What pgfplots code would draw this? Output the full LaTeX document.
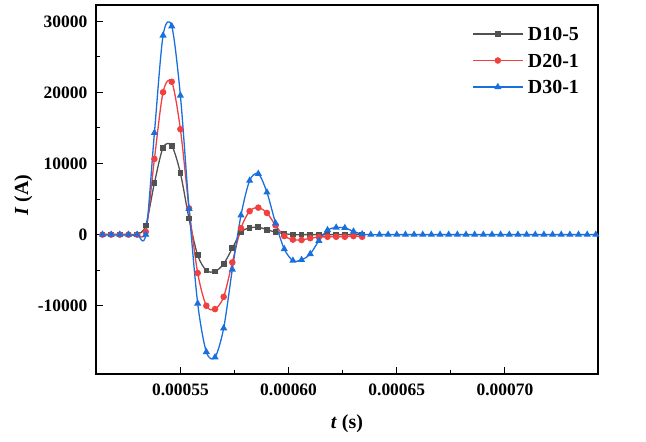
\documentclass[border=0pt]{standalone}
\usepackage{pgfplots}
\pgfplotsset{compat=1.18}
\usepackage{fontspec}
\setmainfont{Liberation Serif}
\definecolor{cA}{HTML}{515151}
\definecolor{cB}{HTML}{F14040}
\definecolor{cC}{HTML}{1A6FDF}
\begin{document}
\begin{tikzpicture}
\path[use as bounding box] (-96bp,-68bp) rectangle (550bp,374bp);
\begin{axis}[
  at={(0,0)}, anchor=south west,
  scale only axis, width=502bp, height=369bp,
  xmin=0.000511, xmax=0.000743,
  ymin=-19600, ymax=32300,
  scaled x ticks=false, scaled y ticks=false,
  xtick={0.00055,0.0006,0.00065,0.0007},
  xticklabels={0.00055,0.00060,0.00065,0.00070},
  ytick={-10000,0,10000,20000,30000},
  yticklabels={-10000,0,10000,20000,30000},
  minor x tick num=1, minor y tick num=1,
  xtick pos=bottom, ytick pos=left,
  tick align=inside,
  major tick length=7bp, minor tick length=4bp,
  every tick/.style={black, line width=1bp},
  axis line style={line width=1.1bp, black},
  xticklabel style={font=\bfseries\fontsize{17.5}{17.5}\selectfont, inner sep=0pt, anchor=north, yshift=-10bp},
  yticklabel style={font=\bfseries\fontsize{17.5}{17.5}\selectfont, inner sep=0pt, anchor=east, xshift=-8.5bp},
  xlabel={\textbf{\textit{t}} \textbf{(s)}},
  ylabel={\textbf{\textit{I}} \textbf{(A)}},
  xlabel style={font=\fontsize{20}{20}\selectfont, at={(axis description cs:0.5,-0.1355)}, anchor=center},
  ylabel style={font=\fontsize{20}{20}\selectfont, at={(axis description cs:-0.1448,0.485)}, anchor=center},
  legend cell align=left,
  legend image code/.code={\draw[mark repeat=2,mark phase=2,#1] plot coordinates {(0bp,0bp) (25bp,0bp) (50bp,0bp)};},
  legend style={at={(axis description cs:0.749,0.9397)}, anchor=north west, draw=none, fill=none,
    inner xsep=0pt, inner ysep=0pt, row sep=13.2bp, column sep=4.5bp,
    nodes={inner sep=0pt, text depth=0pt},
    font=\bfseries\fontsize{20}{20}\selectfont},
]
\addplot[color=cA, line width=1.3bp, smooth, mark=square*, mark size=2.2bp, mark options={solid, fill=cA}] coordinates {
(0.000514,0) (0.000518,0) (0.000522,0) (0.000526,0) (0.000530,0)
(0.000534,1300) (0.000538,7270) (0.000542,12230) (0.000546,12510) (0.000550,8660)
(0.000554,2250) (0.000558,-2900) (0.000562,-5040) (0.000566,-5180) (0.000570,-4110)
(0.000574,-1920) (0.000578,350) (0.000582,950) (0.000586,1050) (0.000590,700)
(0.000594,350) (0.000598,150) (0.000602,0) (0.000606,0) (0.000610,0)
(0.000614,0) (0.000618,0) (0.000622,0) (0.000626,0) (0.000630,0) (0.000634,0)
};
\addlegendentry{D10-5}
\addplot[color=cB, line width=1.3bp, smooth, mark=*, mark size=2.6bp, mark options={solid, fill=cB}] coordinates {
(0.000514,0) (0.000518,0) (0.000522,0) (0.000526,0) (0.000530,0)
(0.000534,400) (0.000538,10650) (0.000542,20030) (0.000546,21500) (0.000550,14830)
(0.000554,3700) (0.000558,-5400) (0.000562,-10000) (0.000566,-10470) (0.000570,-8750)
(0.000574,-3900) (0.000578,900) (0.000582,3300) (0.000586,3800) (0.000590,3050)
(0.000594,1300) (0.000598,-200) (0.000602,-700) (0.000606,-750) (0.000610,-500)
(0.000614,-350) (0.000618,-300) (0.000622,-300) (0.000626,-300) (0.000630,-200) (0.000634,-300)
};
\addlegendentry{D20-1}
\addplot[color=cC, line width=1.3bp, smooth, mark=triangle*, mark size=2.9bp, mark options={solid, fill=cC}] coordinates {
(0.000514,0) (0.000518,0) (0.000522,0) (0.000526,0) (0.000530,0)
(0.000534,0) (0.000538,14320) (0.000542,28020) (0.000546,29320) (0.000550,19570)
(0.000554,3650) (0.000558,-9680) (0.000562,-16500) (0.000566,-17240) (0.000570,-13160)
(0.000574,-4900) (0.000578,2720) (0.000582,7600) (0.000586,8570) (0.000590,5950)
(0.000594,1600) (0.000598,-2020) (0.000602,-3650) (0.000606,-3550) (0.000610,-2720)
(0.000614,-860) (0.000618,650) (0.000622,1000) (0.000626,950) (0.000630,450) (0.000634,70)
(0.000638,0) (0.000642,0) (0.000646,0) (0.000650,0) (0.000654,0) (0.000658,0)
(0.000662,0) (0.000666,0) (0.000670,0) (0.000674,0) (0.000678,0) (0.000682,0)
(0.000686,0) (0.000690,0) (0.000694,0) (0.000698,0) (0.000702,0) (0.000706,0)
(0.000710,0) (0.000714,0) (0.000718,0) (0.000722,0) (0.000726,0) (0.000730,0)
(0.000734,0) (0.000738,0) (0.000742,0)
};
\addlegendentry{D30-1}
\end{axis}
\end{tikzpicture}
\end{document}
